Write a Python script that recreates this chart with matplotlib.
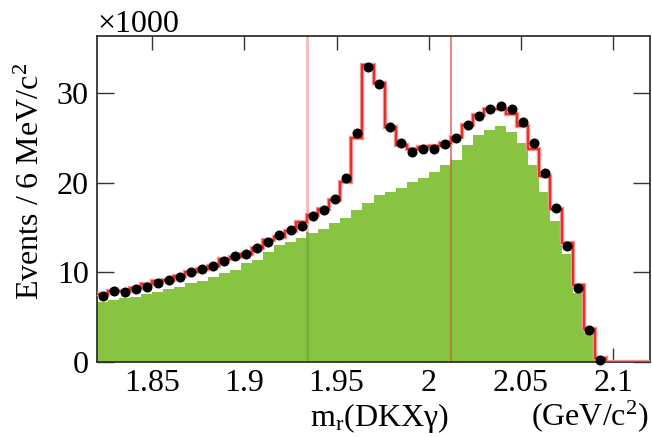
import numpy as np
import matplotlib
matplotlib.use("Agg")
import matplotlib.pyplot as plt

plt.rcParams['font.family'] = ['Liberation Serif', 'DejaVu Serif']
plt.rcParams['mathtext.fontset'] = 'custom'
plt.rcParams['mathtext.rm'] = 'Liberation Serif'
plt.rcParams['mathtext.it'] = 'Liberation Serif:italic'

# ---- data (units of 1000 events / 6 MeV) ----
x_lo, x_hi, bin_w = 1.82, 2.12, 0.006
data_vals = [7.4, 7.9, 7.8, 8.1, 8.4, 8.8, 9.2, 9.5, 10.0, 10.4,
             10.7, 11.3, 11.8, 12.1, 12.7, 13.4, 14.2, 14.7, 15.2, 16.3,
             17.0, 18.2, 20.5, 25.6, 32.9, 31.0, 26.2, 24.4, 23.5, 23.8,
             23.8, 24.3, 25.0, 26.5, 27.5, 28.2, 28.6, 28.3, 26.8, 24.4,
             21.1, 17.2, 13.0, 8.3, 3.6, 0.2]
fit_vals = [7.6, 7.9, 7.9, 8.3, 8.7, 9.0, 9.2, 9.6, 10.1, 10.4,
            10.7, 11.5, 11.7, 12.1, 12.7, 13.6, 14.0, 14.6, 15.6, 16.4,
            17.1, 18.1, 20.1, 25.0, 33.2, 31.1, 26.2, 24.2, 23.8, 24.0,
            24.1, 24.5, 25.1, 26.5, 27.6, 28.2, 28.3, 27.7, 26.3, 23.8,
            20.8, 17.1, 13.3, 8.6, 3.65, 0.4, 0.0, 0.0, 0.0, 0.0]
bkg_vals = [6.7, 6.9, 7.1, 7.3, 7.6, 7.8, 8.1, 8.4, 8.8, 9.1,
            9.5, 9.9, 10.3, 11.0, 11.4, 12.3, 13.1, 13.4, 13.8, 14.4,
            14.9, 15.5, 16.1, 17.0, 17.7, 18.7, 19.0, 19.4, 20.1, 20.5,
            21.2, 22.0, 22.6, 24.2, 25.4, 25.9, 26.4, 25.7, 24.4, 22.0,
            19.0, 15.7, 12.1, 7.7, 3.2, 0.0, 0.0, 0.0, 0.0, 0.0]
cut_lo, cut_hi = 1.934, 2.012
x_ticks = [1.85, 1.9, 1.95, 2.0, 2.05, 2.1]
x_tick_labels = ['1.85', '1.9', '1.95', '2', '2.05', '2.1']
y_ticks = [0, 10, 20, 30]

edges = np.round(np.arange(len(fit_vals) + 1) * bin_w + x_lo, 6)
centers = edges[:len(data_vals)] + bin_w / 2

GREEN = '#88c442'
RED = '#e8302a'

fig = plt.figure(figsize=(6.52, 4.37), dpi=100)
ax = fig.add_axes([97/652, 1 - 362/437, 553/652, 326/437])

# cut lines behind
ax.axvline(cut_lo, color='#f5b9b9', lw=2.0, zorder=1)
ax.axvline(cut_hi, color='#e27070', lw=1.2, zorder=1)

ax.stairs(bkg_vals, edges, fill=True, color=GREEN, lw=0, zorder=2)

# parts of cut lines inside the green area
i_lo = np.searchsorted(edges, cut_lo + 1e-9) - 1
i_hi = np.searchsorted(edges, cut_hi + 1e-9) - 1
ax.plot([cut_lo, cut_lo], [0, bkg_vals[i_lo]], color='#74b03c', lw=2.0, zorder=2.5)
ax.plot([cut_hi, cut_hi], [0, bkg_vals[i_hi]], color='#b07a38', lw=1.2, zorder=2.5)

ax.stairs(fit_vals, edges, color='#f3a0a0', lw=3.2, zorder=3, baseline=None)
ax.stairs(fit_vals, edges, color=RED, lw=1.6, zorder=3.1, baseline=None)
ax.plot(centers, data_vals, 'o', color='black', ms=6.2, zorder=4, clip_on=False)

ax.set_xlim(x_lo, x_hi)
ax.set_ylim(0, 36.4)
ax.set_xticks(x_ticks)
ax.set_xticklabels(x_tick_labels)
ax.set_yticks(y_ticks)
ax.tick_params(axis='both', direction='in', top=True, right=True,
               labelsize=23, length=10, width=1.0, color='#333333')
ax.tick_params(axis='x', pad=5)
ax.tick_params(axis='y', pad=6, length=12)
for s in ax.spines.values():
    s.set_linewidth(1.3)
    s.set_color('#333333')

ax.text(0.0, 1.012, '\u00d71000', transform=ax.transAxes, fontsize=23,
        ha='left', va='baseline')
ax.text(0.51, -0.195, r'm$_{\mathrm{r}}$(DKX\u03b3)'.replace('\\u03b3', '\u03b3'),
        transform=ax.transAxes, fontsize=23, ha='center', va='baseline')
ax.text(0.997, -0.195, r'(GeV/c$^{2}$)', transform=ax.transAxes, fontsize=23,
        ha='right', va='baseline')
fig.text(0.048, 0.585, r'Events / 6 MeV/c$^{2}$', rotation=90, fontsize=23,
         ha='center', va='center')

fig.savefig('out.png', dpi=100)
